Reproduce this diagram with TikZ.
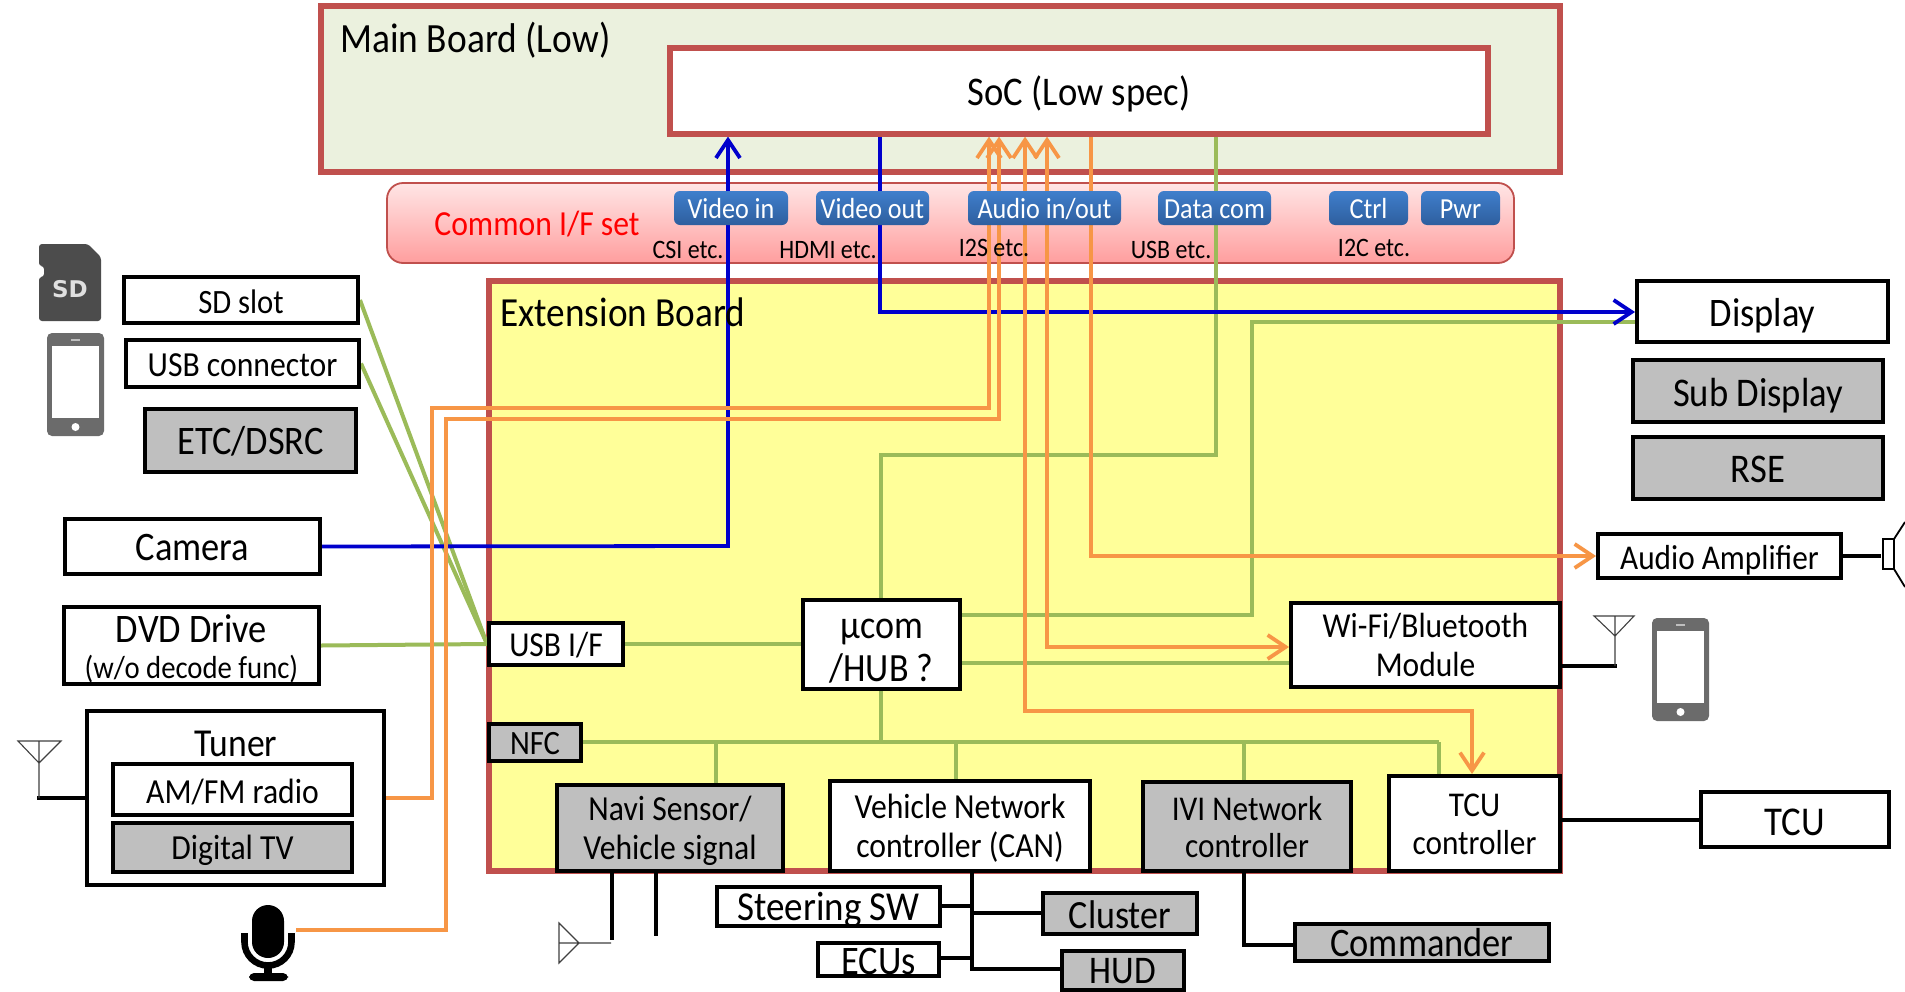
\documentclass[tikz,border=0pt]{standalone}
\usepackage{fontspec}
\setmainfont[Scale=1.1,FakeStretch=0.9]{Carlito}
\newfontfamily\sdfont{DejaVu Sans}
\usetikzlibrary{arrows.meta}
\pgfdeclarelayer{deep}
\pgfdeclarelayer{wires}
\pgfsetlayers{deep,wires,main}
\definecolor{bred}{HTML}{C0504D}
\definecolor{bgreen}{HTML}{EBF1DE}
\definecolor{byell}{HTML}{FFFF99}
\definecolor{gbox}{HTML}{BFBFBF}
\definecolor{wblue}{HTML}{0000CC}
\definecolor{wor}{HTML}{F79646}
\definecolor{wgr}{HTML}{9BBB59}
\definecolor{ant}{HTML}{404040}
\definecolor{BtnTop}{HTML}{3F7FCC}
\definecolor{BtnBot}{HTML}{2E5E9E}
\tikzset{
  wbox/.style={draw=black,line width=2pt,fill=white,inner sep=0pt},
  gybox/.style={wbox,fill=gbox},
  board/.style={draw=bred,line width=2.8pt,inner sep=0pt},
  btn/.style={draw=none,rounded corners=3pt,top color=BtnTop,bottom color=BtnBot,text=white,inner sep=0pt,align=center},
  lab/.style={inner sep=0pt,align=center},
  bwire/.style={draw=wblue,line width=1.9pt},
  owire/.style={draw=wor,line width=2pt},
  gwire/.style={draw=wgr,line width=2pt},
  kwire/.style={draw=black,line width=2pt},
  thinant/.style={draw=ant,line width=.55pt},
  tip/.style={-{Straight Barb[length=9pt,width=12pt,line width=1.9pt]}},
  tiptwo/.style={{Straight Barb[length=9pt,width=12pt,line width=1.9pt]}-{Straight Barb[length=9pt,width=12pt,line width=1.9pt]}}
}
\newcommand\fs[2]{\fontsize{#1}{#2}\selectfont}
% [label shift], name, style, x1, y1, x2, y2, text ; corners in reference pixels
\newcommand\bx[8][1.5]{%
  \pgfmathsetmacro\bw{(#6-#4)*0.5-1}%
  \pgfmathsetmacro\bh{(#7-#5)*0.5-1}%
  \node[#3,minimum width=\bw pt,minimum height=\bh pt] (#2) at ({(#4+#6)/2},{(#5+#7)/2}) {};
  \node[lab] (#2-t) at ({(#4+#6)/2},{(#5+#7)/2+#1}) {#8};}
\newcommand\btnbox[5]{%
  \pgfmathsetmacro\bw{(#3-#2)*0.5}%
  \node[btn,minimum width=\bw pt,minimum height=17pt] (#1) at ({(#2+#3)/2},208) {};
  \node[lab,text=white] (#1-t) at ({(#2+#3)/2},209) {\fs{#5}{#5}#4};}
\newcommand\phoneicon[2]{%
  \begin{scope}[shift={(#1,#2)}]
    \fill[fill=black!58,rounded corners=2.5pt] (0,0) rectangle (57,103);
    \fill[white] (5,13) rectangle (52,85);
    \fill[black!25] (24,6) rectangle (33,8);
    \fill[white] (28.5,94) circle (2pt);
  \end{scope}}
\begin{document}
\begin{tikzpicture}[x=0.5pt,y=-0.5pt]
\useasboundingbox (0,0) rectangle (1905,991);

\begin{pgfonlayer}{deep}
  \fill[white] (0,0) rectangle (1905,991);
  \draw[board,fill=bgreen] (321,6) rectangle (1560,172);
  \draw[board,fill=byell] (489,281) rectangle (1560,871);
  \draw[draw=bred,line width=.9pt,rounded corners=8pt,top color=red!10,bottom color=red!38!white] (387,183) rectangle (1514,263);
\end{pgfonlayer}

% labels
\node[lab,anchor=west,font=\fs{18.9}{22}] (mainlab) at (340,40) {Main Board (Low)};
\node[lab,anchor=west,font=\fs{18.8}{22}] (extlab) at (500,312) {Extension Board};
\node[lab,font=\fs{16}{20},text=red] (commonlab) at (537,224) {Common I/F set};

% boxes
\bx[2.5]{soc}{wbox,draw=bred,line width=2.6pt}{669}{47}{1489}{135}{\fs{18.5}{22}SoC (Low spec)}
\btnbox{bvin}{674}{788}{Video in}{13.2}
\btnbox{bvout}{816}{929}{Video out}{13.2}
\btnbox{baud}{968}{1121}{Audio in/out}{13.2}
\btnbox{bdata}{1158}{1271}{Data com}{13.2}
\btnbox{bctrl}{1329}{1408}{Ctrl}{13.2}
\btnbox{bpwr}{1421}{1500}{Pwr}{13.2}
\node[lab,font=\fs{12.1}{14}] (lcsi) at (688,250) {CSI etc.};
\node[lab,font=\fs{12.1}{14}] (lhdmi) at (828,250) {HDMI etc.};
\node[lab,font=\fs{12.1}{14}] (li2s) at (994,248) {I2S etc.};
\node[lab,font=\fs{12.1}{14}] (lusb) at (1171,250) {USB etc.};
\node[lab,font=\fs{12.1}{14}] (li2c) at (1374,248) {I2C etc.};

\bx{sd}{wbox}{123}{276}{359}{324}{\fs{15.5}{18}SD slot}
\bx[1.5]{usbc}{wbox}{125}{339}{360}{388}{\fs{16}{18}USB connector}
\bx[0.5]{etc}{gybox}{144}{408}{357}{473}{\fs{18.4}{22}ETC/DSRC}
\bx{cam}{wbox}{64}{518}{321}{575}{\fs{18.4}{22}Camera}
\bx[3.5]{dvd}{wbox}{63}{606}{320}{685}{\fs{18.4}{19.5}DVD Drive\\[6pt]\fs{14.5}{19.5}(w/o decode func)}
\bx{tuner}{wbox}{86}{710}{385}{886}{}
\node[lab,font=\fs{18}{20}] (tunerlab) at (236,744) {Tuner};
\bx[2.5]{amfm}{wbox}{112}{763}{353}{816}{\fs{16}{18}AM/FM radio}
\bx[3]{dtv}{gybox}{112}{822}{353}{873}{\fs{16}{18}Digital TV}

\bx{usbif}{wbox}{488}{622}{624}{666}{\fs{15.9}{18}USB I/F}
\bx{nfc}{gybox}{488}{723}{582}{762}{\fs{15.5}{18}NFC}
\bx[6.5]{ucom}{wbox}{802}{599}{961}{690}{\fs{18.2}{21}µcom\\[3.7pt]\fs{18.2}{21}/HUB ?}
\bx[0]{wifi}{wbox}{1290}{602}{1561}{688}{\fs{15.9}{19.5}Wi-Fi/Bluetooth\\[5.5pt]\fs{15.9}{19.5}Module}
\bx[2.5]{navi}{gybox}{556}{784}{784}{872}{\fs{16}{19.5}Navi Sensor/\\[5.5pt]\fs{16}{19.5}Vehicle signal}
\bx[2.5]{vnet}{wbox}{829}{780}{1091}{872}{\fs{16}{19.5}Vehicle Network\\[5.5pt]\fs{16}{19.5}controller (CAN)}
\bx[0.5]{ivi}{gybox}{1142}{781}{1352}{872}{\fs{15.8}{19.5}IVI Network\\[5.5pt]\fs{15.8}{19.5}controller}
\bx[1]{tcuc}{wbox}{1388}{775}{1561}{872}{\fs{15.8}{19.5}TCU\\[5.5pt]\fs{15.8}{19.5}controller}

\bx[4]{disp}{wbox}{1636}{280}{1889}{343}{\fs{18.4}{22}Display}
\bx[5]{sub}{gybox}{1632}{359}{1884}{423}{\fs{18.5}{22}Sub Display}
\bx{rse}{gybox}{1632}{436}{1884}{500}{\fs{18.5}{22}RSE}
\bx[4]{amp}{wbox}{1597}{533}{1842}{579}{\fs{15.8}{18}Audio Amplifier}
\bx[2.5]{tcu}{wbox}{1700}{791}{1890}{848}{\fs{18.6}{22}TCU}

\bx[3]{steer}{wbox}{716}{886}{941}{927}{\fs{18.7}{20}Steering SW}
\bx{ecus}{wbox}{817}{942}{940}{977}{\fs{18.4}{20}ECUs}
\bx[1.5]{clus}{gybox}{1042}{892}{1198}{935}{\fs{18.2}{20}Cluster}
\bx[1]{hud}{gybox}{1061}{950}{1185}{991}{\fs{17.8}{20}HUD}
\bx[0.5]{comm}{gybox}{1294}{923}{1550}{962}{\fs{18.4}{20}Commander}

% bends
\coordinate (vo) at (880,312);
\coordinate (vi) at (728,546);
\coordinate (o1a) at (432,798);
\coordinate (o1b) at (432,408);
\coordinate (o1c) at (989,408);
\coordinate (micout) at (296,930);
\coordinate (o2a) at (446,930);
\coordinate (o2b) at (446,419);
\coordinate (o2c) at (999,419);
\coordinate (o3) at (1025,711);
\coordinate (o3b) at (1472,711);
\coordinate (o4) at (1047,647);
\coordinate (o5) at (1091,556);
\coordinate (g1a) at (881,455);
\coordinate (g1b) at (1216,455);
\coordinate (g2) at (960,615);
\coordinate (g2a) at (1252,615);
\coordinate (g2b) at (1252,322);
\coordinate (g3) at (960,663);
\coordinate (g4) at (881,742);
\coordinate (g4b) at (1439,742);
\coordinate (g5) at (716,742);
\coordinate (g6) at (956,742);
\coordinate (g7) at (1244,742);
\coordinate (k1) at (972,906);
\coordinate (k2) at (972,913);
\coordinate (k3) at (972,958);
\coordinate (k4) at (972,969);
\coordinate (k5) at (1244,945);
\coordinate (spk) at (1881,556);
\coordinate (ant1) at (37,798);
\coordinate (ant2) at (1617,666);
\coordinate (navi1) at (612,940);
\coordinate (navi2) at (656,936);

\begin{pgfonlayer}{wires}
  \draw[gwire] (sd.east) -- (usbif.west);
  \draw[gwire] (usbc.east) -- (usbif.west);
  \draw[gwire] (dvd.east) -- (usbif.west);
  \draw[gwire] (usbif.east) -- (ucom.west |- usbif.east);
  \draw[gwire] (ucom.north -| g1a) -- (g1a) -- (g1b) -- (soc.south -| g1b);
  \draw[gwire] (g2) -- (g2a) -- (g2b) -- (disp.west |- g2b);
  \draw[gwire] (g3) -- (wifi.west |- g3);
  \draw[gwire] (ucom.south -| g4) -- (g4);
  \draw[gwire] (nfc.east |- g4) -- (g4b);
  \draw[gwire,line width=2.4pt] (g4b) -- (tcuc.north -| g4b);
  \draw[gwire] (g5) -- (navi.north -| g5);
  \draw[gwire] (g6) -- (vnet.north -| g6);
  \draw[gwire] (g7) -- (ivi.north -| g7);

  \draw[bwire,tip] (cam.east) -- (vi) -- (soc.south -| vi);
  \draw[bwire,tip] (soc.south -| vo) -- (vo) -- (disp.west |- vo);

  \draw[owire,tip] (tuner.east) -- (o1a) -- (o1b) -- (o1c) -- (soc.south -| o1c);
  \draw[owire,tip] (micout) -- (o2a) -- (o2b) -- (o2c) -- (soc.south -| o2c);
  \draw[owire,tiptwo] (soc.south -| o3) -- (o3) -- (o3b) -- (tcuc.north -| o3b);
  \draw[owire,tiptwo] (soc.south -| o4) -- (o4) -- (wifi.west |- o4);
  \draw[owire,tip] (soc.south -| o5) -- (o5) -- (amp.west);

  \draw[kwire] (tcuc.east |- tcu.west) -- (tcu.west);
  \draw[kwire] (ant1) -- (tuner.west);
  \draw[kwire] (wifi.east |- ant2) -- (ant2);
  \draw[kwire] (amp.east) -- (spk);
  \draw[kwire] (ivi.south -| k5) -- (k5) -- (comm.west |- k5);
  \draw[kwire] (vnet.south -| k4) -- (k4) -- (hud.west |- k4);
  \draw[kwire] (steer.east |- k1) -- (k1);
  \draw[kwire] (k2) -- (clus.west |- k2);
  \draw[kwire] (ecus.east |- k3) -- (k3);
  \draw[kwire] (navi.south -| navi1) -- (navi1);
  \draw[kwire] (navi.south -| navi2) -- (navi2);
\end{pgfonlayer}

% antennas
\draw[thinant] (18,741) -- (61,741) -- (39,763) -- cycle (39,741) -- (39,798);
\draw[thinant] (1594,616) -- (1634,616) -- (1615,636) -- cycle (1615,616) -- (1615,666);
\draw[thinant] (559,923) -- (579,943) -- (559,963) -- cycle (559,943) -- (611,943);

% speaker
\draw[draw=black,line width=.9pt,fill=white] (1883,539) rectangle (1894,569);
\draw[draw=black,line width=.9pt] (1905,522) -- (1894,539) (1894,569) -- (1905,587);

% SD card icon
\fill[fill=black!70,rounded corners=1.5pt] (39,244) -- (88,244) -- (101,257) -- (101,321) -- (39,321) -- (39,277) -- (44,277) -- (44,266) -- (39,266) -- cycle;
\node[lab,text=black!12,font=\sdfont\bfseries\fs{11.5}{12}] (sdtxt) at (70,289) {SD};

% phones
\phoneicon{47}{333}
\phoneicon{1652}{618}

% microphone
\fill[black,rounded corners=8pt] (252,905) rectangle (284,958);
\draw[draw=black,line width=3.3pt] (244.5,933) -- (244.5,942) arc[start angle=180,end angle=0,radius=23.5] -- (291.5,933);
\fill[black] (264,964) rectangle (272,976);
\fill[black,rounded corners=2.5pt] (249,973) rectangle (288,981);
\end{tikzpicture}
\end{document}
